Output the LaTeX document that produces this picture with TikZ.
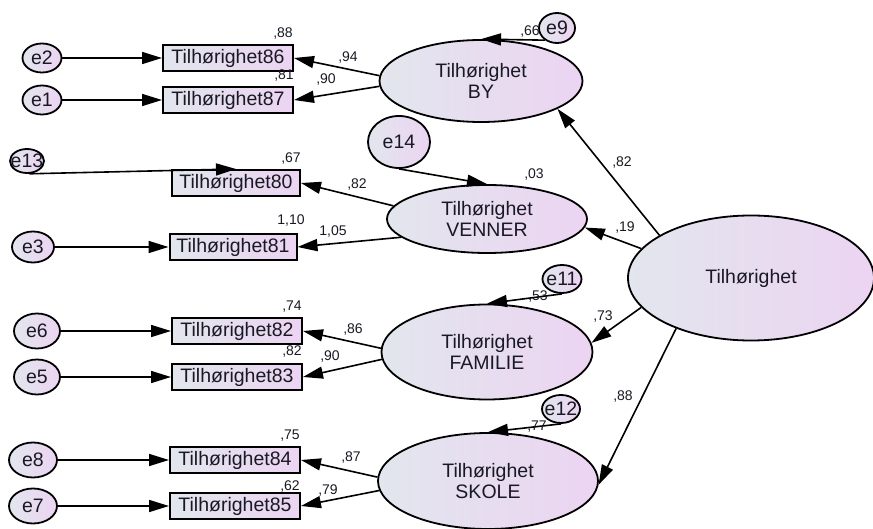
\documentclass[tikz,border=0pt]{standalone}
\usepackage{fontspec}
\setmainfont{Liberation Sans}
\usetikzlibrary{shapes.geometric,arrows.meta}
\definecolor{gl}{RGB}{226,230,237}
\definecolor{gr}{RGB}{236,212,242}
\definecolor{ink}{RGB}{25,25,35}
\begin{document}
\begin{tikzpicture}[x=1pt,y=-1pt,
  conn/.style={line width=1.6pt, -{Triangle[length=20pt,width=12pt]}},
  lat/.style={ellipse, draw, line width=1.8pt, left color=gl, right color=gr, inner sep=0pt, align=center, text=ink, font=\fontsize{19.5}{21}\selectfont},
  err/.style={ellipse, draw, line width=1.8pt, left color=gl, right color=gr, inner sep=0pt, label={[font=\fontsize{19.5}{20}\selectfont, text=ink, inner sep=0pt]center:#1}},
  obs/.style={rectangle, draw, line width=2pt, left color=gl, right color=gr, minimum width=130pt, minimum height=26pt, inner sep=0pt, text=ink, font=\fontsize{19.5}{20}\selectfont},
  lbl/.style={font=\fontsize{14}{14}\selectfont, text=ink, inner sep=0pt}
]
\useasboundingbox (0,0) rectangle (873,529);
% BY group
\node[err=e2, minimum width=39pt, minimum height=29pt] (e2) at (42,58) {};
\node[err=e1, minimum width=39pt, minimum height=29pt] (e1) at (42,100) {};
\node[obs] (b86) at (228,58) {Tilhørighet86};
\node[obs] (b87) at (228,100) {Tilhørighet87};
\node[lat, minimum width=203pt, minimum height=82pt] (BY) at (481,81) {Tilhørighet\\BY};
\node[err=e9, minimum width=36pt, minimum height=30pt] (e9) at (557,28) {};
% VENNER group
\node[err=e13, minimum width=34pt, minimum height=24pt] (e13) at (27,161) {};
\node[obs, minimum width=128pt] (b80) at (236,183) {Tilhørighet80};
\node[obs, minimum width=127pt] (b81) at (233,247) {Tilhørighet81};
\node[err=e3, minimum width=42pt, minimum height=31pt] (e3) at (33,247) {};
\node[lat, minimum width=200pt, minimum height=68pt] (VEN) at (487,219) {Tilhørighet\\VENNER};
\node[err=e14, minimum width=62pt, minimum height=52pt] (e14) at (399,142) {};
% main latent
\node[lat, minimum width=246pt, minimum height=125pt] (T) at (751,278) {Tilhørighet};
% FAMILIE group
\node[err=e6, minimum width=46pt, minimum height=35pt] (e6) at (37,331) {};
\node[err=e5, minimum width=46pt, minimum height=35pt] (e5) at (37,377) {};
\node[obs] (b82) at (237,331) {Tilhørighet82};
\node[obs] (b83) at (237,377) {Tilhørighet83};
\node[lat, minimum width=211pt, minimum height=95pt] (FAM) at (487,352) {Tilhørighet\\FAMILIE};
\node[err=e11, minimum width=39pt, minimum height=28pt] (e11) at (562,279) {};
% SKOLE group
\node[err=e8, minimum width=48pt, minimum height=35pt] (e8) at (33,460) {};
\node[err=e7, minimum width=48pt, minimum height=35pt] (e7) at (33,506) {};
\node[obs] (b84) at (235,460) {Tilhørighet84};
\node[obs] (b85) at (235,506) {Tilhørighet85};
\node[lat, minimum width=220pt, minimum height=96pt] (SKO) at (488,481) {Tilhørighet\\SKOLE};
\node[err=e12, minimum width=38pt, minimum height=28pt] (e12) at (561,409) {};

% connectors
\draw[conn] (e2) -- (b86);
\draw[conn] (e1) -- (b87);
\draw[conn] (BY.177) -- (b86.east);
\draw[conn] (BY.183) -- (b87.east);
\draw[conn] (e9.225) -- (BY.north);
\draw[conn] (e13.280) -- (b80.north);
\draw[conn] (e3) -- (b81);
\draw[conn] (VEN.172) -- (b80.east);
\draw[conn] (VEN.192) -- (b81.east);
\draw[conn] (e14.south) -- (VEN.north);
\draw[conn] (T.155) -- (BY.340);
\draw[conn] (T.165) -- (VEN.355);
\draw[conn] (T.195) -- (FAM.5);
\draw[conn] (T.214) -- (SKO.358);
\draw[conn] (e6) -- (b82);
\draw[conn] (e5) -- (b83);
\draw[conn] (FAM.178) -- (b82.east);
\draw[conn] (FAM.184) -- (b83.east);
\draw[conn] (e11.south) -- (FAM.north);
\draw[conn] (e8) -- (b84);
\draw[conn] (e7) -- (b85);
\draw[conn] (SKO.178) -- (b84.east);
\draw[conn] (SKO.185) -- (b85.east);
\draw[conn] (e12.south) -- (SKO.north);

% labels
\node[lbl] (l88) at (283,34) {,88};
\node[lbl] (l81) at (284,76) {,81};
\node[lbl] (l94) at (348,58) {,94};
\node[lbl] (l90a) at (326,80) {,90};
\node[lbl] (l66) at (530,32) {,66};
\node[lbl] (l67) at (291,159) {,67};
\node[lbl] (l110) at (291,221) {1,10};
\node[lbl] (l105) at (333,232) {1,05};
\node[lbl] (l82v) at (357,185) {,82};
\node[lbl] (l03) at (534,175) {,03};
\node[lbl] (l82t) at (622,163) {,82};
\node[lbl] (l19) at (625,228) {,19};
\node[lbl] (l73) at (603,317) {,73};
\node[lbl] (l53) at (538,297) {,53};
\node[lbl] (l86) at (353,330) {,86};
\node[lbl] (l90f) at (330,357) {,90};
\node[lbl] (l74) at (292,307) {,74};
\node[lbl] (l82b) at (292,352) {,82};
\node[lbl] (l88s) at (623,397) {,88};
\node[lbl] (l77) at (537,427) {,77};
\node[lbl] (l87) at (351,458) {,87};
\node[lbl] (l79) at (328,491) {,79};
\node[lbl] (l75) at (290,436) {,75};
\node[lbl] (l62) at (290,487) {,62};
\end{tikzpicture}
\end{document}
